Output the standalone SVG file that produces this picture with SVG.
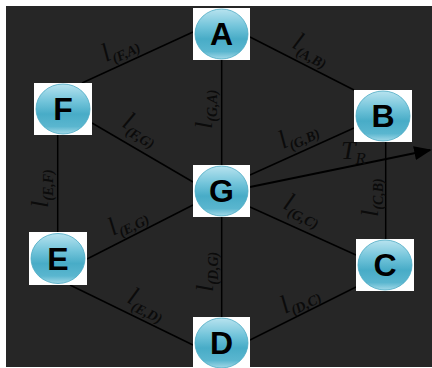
<svg xmlns="http://www.w3.org/2000/svg" width="432" height="368" viewBox="0 0 432 368">
<defs>
<linearGradient id="ball" x1="0" y1="0" x2="0" y2="1">
<stop offset="0" stop-color="#b8e3ef"/>
<stop offset="0.35" stop-color="#72c4da"/>
<stop offset="0.6" stop-color="#48acc7"/>
<stop offset="0.85" stop-color="#5ab6cf"/>
<stop offset="1" stop-color="#a2d8e7"/>
</linearGradient>
<marker id="arr" viewBox="0 0 10 8" refX="9" refY="4" markerWidth="9" markerHeight="7" orient="auto" markerUnits="strokeWidth">
<path d="M0,0 L10,4 L0,8 z" fill="#000"/>
</marker>
<style>
.edge{stroke:#000;stroke-width:1.5;fill:none}
.box{fill:#fff}
.ball{fill:url(#ball);stroke:#4aa9c3;stroke-width:0.8}
.nl{font-family:"Liberation Sans",Arial,sans-serif;font-weight:bold;font-size:32px;fill:#000;text-anchor:middle}
.lab{font-family:"Liberation Serif","Times New Roman",serif;font-style:italic;font-size:26px;fill:#0b0b0b}
.sub{font-size:14px;font-weight:bold}
</style>
</defs>
<rect x="0" y="0" width="432" height="368" fill="#fff"/>
<rect x="6" y="6" width="426" height="361" fill="#262626"/>
<g id="connectors">
<line class="edge" x1="193" y1="32" x2="82" y2="83"/>
<line class="edge" x1="250" y1="37" x2="354" y2="90"/>
<line class="edge" x1="221.7" y1="60" x2="221.7" y2="165"/>
<line class="edge" x1="92" y1="123" x2="193" y2="182"/>
<line class="edge" x1="57.7" y1="135" x2="57.7" y2="232"/>
<line class="edge" x1="250" y1="175" x2="354" y2="128"/>
<line class="edge" x1="385.7" y1="142" x2="385.7" y2="239"/>
<line class="edge" x1="193" y1="205" x2="87" y2="259"/>
<line class="edge" x1="250" y1="207" x2="356" y2="255"/>
<line class="edge" x1="221.7" y1="217" x2="221.7" y2="317"/>
<line class="edge" x1="70" y1="285" x2="193" y2="345"/>
<line class="edge" x1="250" y1="340" x2="356" y2="287"/>
<line x1="250" y1="187" x2="430" y2="150" stroke="#000" stroke-width="2" marker-end="url(#arr)"/>
</g>
<g id="labels">
<text class="lab" transform="translate(106,62) rotate(-25)">l<tspan class="sub" dy="5">(F,A)</tspan></text>
<text class="lab" transform="translate(291,47) rotate(27)">l<tspan class="sub" dy="5">(A,B)</tspan></text>
<text class="lab" transform="translate(212,129) rotate(-90)">l<tspan class="sub" dy="5">(G,A)</tspan></text>
<text class="lab" transform="translate(121,126) rotate(30)">l<tspan class="sub" dy="5">(F,G)</tspan></text>
<text class="lab" transform="translate(283,149) rotate(-25)">l<tspan class="sub" dy="5">(G,B)</tspan></text>
<text class="lab" transform="translate(48,208) rotate(-90)">l<tspan class="sub" dy="5">(E,F)</tspan></text>
<text class="lab" transform="translate(378,217) rotate(-90)">l<tspan class="sub" dy="5">(C,B)</tspan></text>
<text class="lab" transform="translate(113,236) rotate(-27)">l<tspan class="sub" dy="5">(E,G)</tspan></text>
<text class="lab" transform="translate(282,208) rotate(25)">l<tspan class="sub" dy="5">(G,C)</tspan></text>
<text class="lab" transform="translate(213,292) rotate(-90)">l<tspan class="sub" dy="5">(D,G)</tspan></text>
<text class="lab" transform="translate(126,302) rotate(26)">l<tspan class="sub" dy="5">(E,D)</tspan></text>
<text class="lab" transform="translate(285,314) rotate(-26)">l<tspan class="sub" dy="5">(D,C)</tspan></text>
<text class="lab" x="341" y="159">T<tspan font-size="17" dy="5">R</tspan></text>
</g>
<g id="node-A"><rect class="box" x="193" y="8" width="57" height="52"/><ellipse class="ball" cx="221.5" cy="34" rx="26.5" ry="25"/><text class="nl" x="221.5" y="45">A</text></g>
<g id="node-F"><rect class="box" x="34" y="83" width="58" height="52"/><ellipse class="ball" cx="63" cy="109" rx="27" ry="25"/><text class="nl" x="63" y="120">F</text></g>
<g id="node-B"><rect class="box" x="354" y="90" width="58" height="52"/><ellipse class="ball" cx="383" cy="116" rx="27" ry="25"/><text class="nl" x="383" y="127">B</text></g>
<g id="node-G"><rect class="box" x="193" y="165" width="57" height="52"/><ellipse class="ball" cx="221.5" cy="191" rx="26.5" ry="25"/><text class="nl" x="221.5" y="202">G</text></g>
<g id="node-E"><rect class="box" x="29" y="232" width="58" height="53"/><ellipse class="ball" cx="58" cy="258.5" rx="27" ry="25"/><text class="nl" x="58" y="269.5">E</text></g>
<g id="node-C"><rect class="box" x="356" y="239" width="58" height="52"/><ellipse class="ball" cx="385" cy="265" rx="27" ry="25"/><text class="nl" x="385" y="276">C</text></g>
<g id="node-D"><rect class="box" x="193" y="317" width="57" height="52"/><ellipse class="ball" cx="221.5" cy="343" rx="26.5" ry="25"/><text class="nl" x="221.5" y="354">D</text></g>
</svg>
